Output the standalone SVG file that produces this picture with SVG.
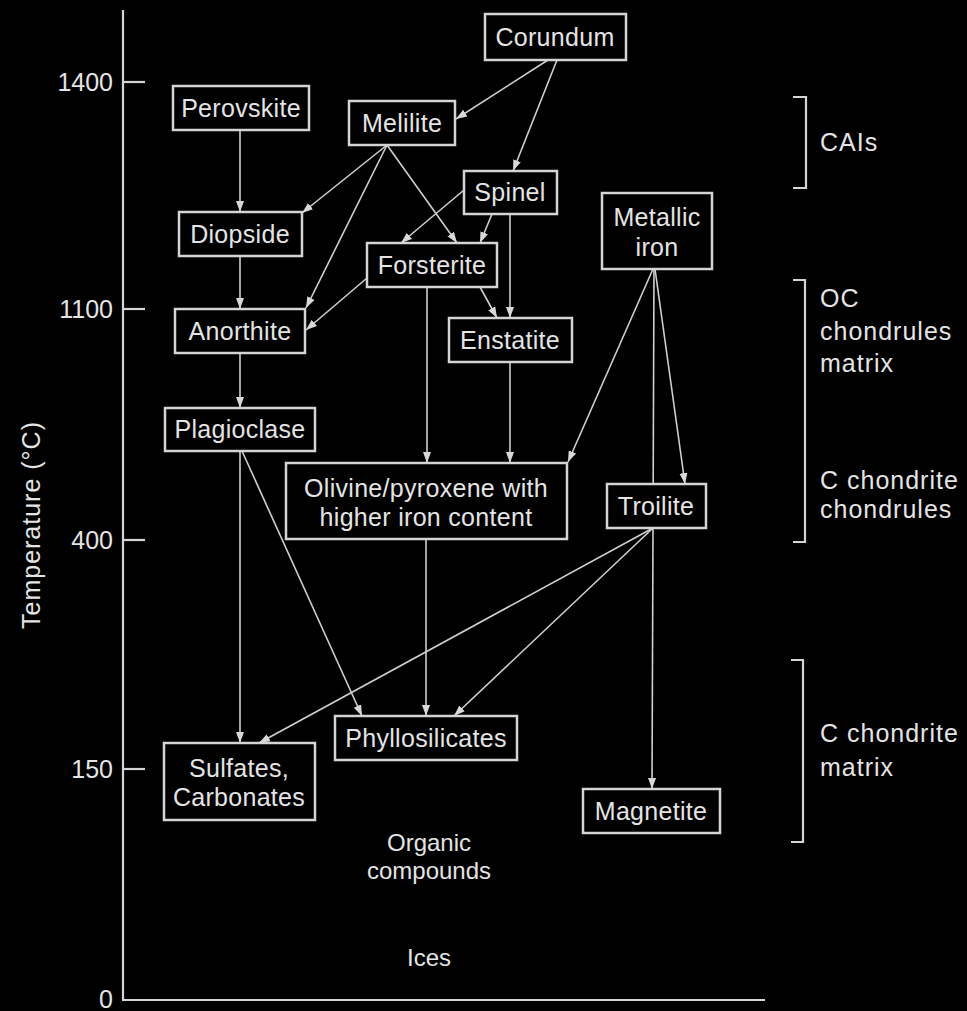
<svg xmlns="http://www.w3.org/2000/svg" width="967" height="1011" viewBox="0 0 967 1011">
<defs>
<marker id="arr" markerUnits="userSpaceOnUse" markerWidth="12" markerHeight="10" viewBox="0 0 12 10" refX="11" refY="5" orient="auto">
<path d="M0,1 L11,5 L0,9 Z" fill="#d8d8d8"/>
</marker>
</defs>
<style>
text { font-family: "Liberation Sans", Arial, sans-serif; fill: #e4e4e4; }
.n rect { fill: #000; stroke: #d4d4d4; stroke-width: 2.5; }
.n text { font-size: 25px; text-anchor: middle; letter-spacing: 0.3px; }
.c line { stroke: #cfcfcf; stroke-width: 1.6; fill: none; }
.c .a { marker-end: url(#arr); }
.ax line, .ax polyline { stroke: #d4d4d4; stroke-width: 2.2; fill: none; }
.tl { font-size: 25px; text-anchor: end; }
.rl { font-size: 25px; letter-spacing: 1px; }
.fl { font-size: 24px; text-anchor: middle; }
</style>
<rect x="0" y="0" width="967" height="1011" fill="#000"/>

<g id="axes" class="ax">
<line x1="123" y1="10" x2="123" y2="1000"/>
<line x1="122" y1="1000" x2="765" y2="1000"/>
<line x1="123" y1="82" x2="145" y2="82"/>
<line x1="123" y1="309" x2="145" y2="309"/>
<line x1="123" y1="540" x2="145" y2="540"/>
<line x1="123" y1="769" x2="145" y2="769"/>
<polyline points="793,97 806,97 806,188 793,188"/>
<polyline points="793,280 805,280 805,542 793,542"/>
<polyline points="791,660 803,660 803,842 791,842"/>
</g>

<g id="axis-labels">
<text class="tl" x="113" y="91">1400</text>
<text class="tl" x="113" y="318">1100</text>
<text class="tl" x="113" y="549">400</text>
<text class="tl" x="113" y="778">150</text>
<text class="tl" x="113" y="1008">0</text>
<text x="0" y="0" transform="translate(40,525) rotate(-90)" text-anchor="middle" font-size="25" letter-spacing="1">Temperature (°C)</text>
</g>

<g id="range-labels">
<text class="rl" x="820" y="151">CAIs</text>
<text class="rl" x="820" y="307">OC</text>
<text class="rl" x="820" y="340">chondrules</text>
<text class="rl" x="820" y="372">matrix</text>
<text class="rl" x="820" y="489">C chondrite</text>
<text class="rl" x="820" y="518">chondrules</text>
<text class="rl" x="820" y="742">C chondrite</text>
<text class="rl" x="820" y="776">matrix</text>
</g>

<g id="connectors" class="c">
<line class="a" x1="548" y1="60" x2="456" y2="119"/>
<line class="a" x1="557" y1="60" x2="513" y2="171"/>
<line class="a" x1="240" y1="131" x2="240" y2="212"/>
<line class="a" x1="387" y1="145" x2="302" y2="213"/>
<line class="a" x1="387" y1="145" x2="306" y2="308"/>
<line class="a" x1="387" y1="145" x2="457" y2="243"/>
<line class="a" x1="464" y1="190" x2="401" y2="243"/>
<line class="a" x1="492" y1="214" x2="480" y2="243"/>
<line class="a" x1="510" y1="214" x2="510" y2="318"/>
<line class="a" x1="240" y1="256" x2="240" y2="309"/>
<line class="a" x1="367" y1="278" x2="306" y2="330"/>
<line class="a" x1="480" y1="287" x2="497" y2="318"/>
<line class="a" x1="427" y1="287" x2="427" y2="463"/>
<line class="a" x1="510" y1="362" x2="510" y2="463"/>
<line class="a" x1="653" y1="269" x2="568" y2="462"/>
<line class="a" x1="655" y1="269" x2="685" y2="484"/>
<line class="a" x1="654" y1="269" x2="652" y2="789"/>
<line class="a" x1="240" y1="353" x2="240" y2="408"/>
<line class="a" x1="240" y1="451" x2="240" y2="743"/>
<line class="a" x1="242" y1="451" x2="362" y2="716"/>
<line class="a" x1="426" y1="539" x2="426" y2="716"/>
<line class="a" x1="653" y1="528" x2="259" y2="743"/>
<line class="a" x1="653" y1="528" x2="454" y2="716"/>
</g>

<g id="corundum" class="n"><rect x="485" y="14" width="141" height="46"/><text x="555" y="46">Corundum</text></g>
<g id="perovskite" class="n"><rect x="173" y="86" width="136" height="44"/><text x="241" y="117">Perovskite</text></g>
<g id="melilite" class="n"><rect x="349" y="101" width="106" height="44"/><text x="402" y="132">Melilite</text></g>
<g id="spinel" class="n"><rect x="464" y="171" width="93" height="43"/><text x="510" y="201">Spinel</text></g>
<g id="metallic-iron" class="n"><rect x="602" y="193" width="110" height="76"/><text x="657" y="226">Metallic</text><text x="657" y="256">iron</text></g>
<g id="diopside" class="n"><rect x="179" y="212" width="123" height="44"/><text x="240" y="243">Diopside</text></g>
<g id="forsterite" class="n"><rect x="367" y="243" width="130" height="44"/><text x="432" y="274">Forsterite</text></g>
<g id="anorthite" class="n"><rect x="175" y="309" width="130" height="44"/><text x="240" y="340">Anorthite</text></g>
<g id="enstatite" class="n"><rect x="449" y="318" width="123" height="44"/><text x="510" y="349">Enstatite</text></g>
<g id="plagioclase" class="n"><rect x="165" y="408" width="150" height="43"/><text x="240" y="438">Plagioclase</text></g>
<g id="olivine" class="n"><rect x="286" y="463" width="281" height="76"/><text x="426" y="497">Olivine/pyroxene with</text><text x="426" y="526">higher iron content</text></g>
<g id="troilite" class="n"><rect x="607" y="484" width="99" height="44"/><text x="656" y="515">Troilite</text></g>
<g id="phyllosilicates" class="n"><rect x="335" y="716" width="182" height="44"/><text x="426" y="747">Phyllosilicates</text></g>
<g id="sulfates" class="n"><rect x="164" y="743" width="151" height="77"/><text x="239" y="777">Sulfates,</text><text x="239" y="806">Carbonates</text></g>
<g id="magnetite" class="n"><rect x="583" y="789" width="137" height="44"/><text x="651" y="820">Magnetite</text></g>

<g id="free-labels">
<text class="fl" x="429" y="851">Organic</text>
<text class="fl" x="429" y="879">compounds</text>
<text class="fl" x="429" y="966">Ices</text>
</g>
</svg>
